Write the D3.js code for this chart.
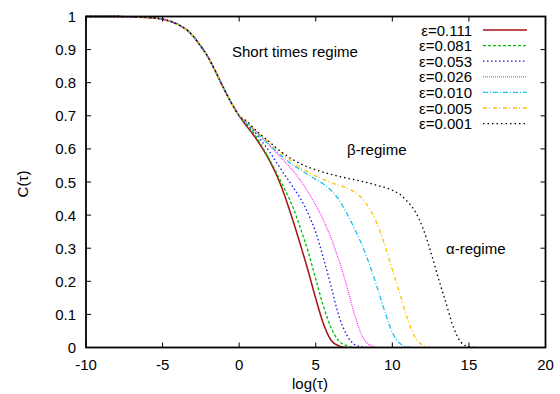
<!DOCTYPE html>
<html>
<head>
<meta charset="utf-8">
<script src="https://cdn.jsdelivr.net/npm/d3@7"></script>
<style>
  body { margin: 0; background: #fff; }
  svg { font-family: "Liberation Sans", Arial, Helvetica, sans-serif; }
</style>
</head>
<body>
<svg id="chart" width="560" height="394"></svg>
<script>
// shared short-time decay (identical for every epsilon)
const common = [[-10, 1.0], [-8, 1.0], [-7, 0.999], [-6, 0.997], [-5, 0.992], [-4, 0.976],
  [-3.3, 0.955], [-2.5, 0.91], [-2, 0.875], [-1.5, 0.83], [-1, 0.782], [-0.5, 0.738], [0, 0.70]];

const red = [[0.5, 0.668], [1, 0.638], [1.5, 0.603], [2, 0.563], [2.5, 0.515], [3, 0.455], [3.5, 0.385],
  [4, 0.31], [4.5, 0.232], [5, 0.148], [5.5, 0.072], [6, 0.022], [6.5, 0.005], [7, 0]];
const green = [[0.5, 0.672], [1, 0.645], [1.5, 0.607], [2, 0.567], [2.5, 0.522], [3, 0.476], [3.5, 0.425],
  [4, 0.36], [4.5, 0.29], [5, 0.207], [5.5, 0.125], [6, 0.06], [6.5, 0.02], [7, 0.006], [7.5, 0]];
const blue = [[0.5, 0.675], [1, 0.652], [1.5, 0.622], [2, 0.59], [2.5, 0.555], [3, 0.52], [3.5, 0.486],
  [4, 0.45], [4.5, 0.405], [5, 0.348], [5.5, 0.27], [6, 0.185], [6.5, 0.097], [7, 0.04], [7.5, 0.01],
  [8, 0.002], [8.5, 0]];
const magenta = [[0.5, 0.678], [1, 0.658], [1.5, 0.635], [2, 0.61], [2.5, 0.585], [3, 0.56], [3.5, 0.535],
  [4, 0.505], [4.5, 0.47], [5, 0.43], [5.5, 0.385], [6, 0.33], [6.5, 0.265], [7, 0.19], [7.5, 0.105],
  [8, 0.038], [8.5, 0.008], [9, 0]];
const cyan = [[0.5, 0.68], [1, 0.655], [1.5, 0.633], [2, 0.61], [2.5, 0.59], [3, 0.57], [3.5, 0.552],
  [4, 0.537], [4.5, 0.522], [5, 0.508], [5.5, 0.494], [6, 0.475], [6.5, 0.447], [7, 0.408], [7.5, 0.362],
  [8, 0.312], [8.5, 0.252], [9, 0.183], [9.5, 0.11], [10, 0.045], [10.5, 0.012], [11, 0.002], [11.5, 0]];
const yellow = [[0.5, 0.682], [1, 0.658], [1.5, 0.638], [2, 0.617], [2.5, 0.597], [3, 0.578], [3.5, 0.56],
  [4, 0.543], [4.5, 0.53], [5, 0.518], [5.5, 0.508], [6, 0.498], [6.5, 0.49], [7, 0.482], [7.5, 0.47],
  [8, 0.452], [8.5, 0.42], [9, 0.375], [9.5, 0.31], [10, 0.235], [10.5, 0.162], [11, 0.085], [11.5, 0.03],
  [12, 0.007], [12.5, 0]];
const black = [[0.5, 0.684], [1, 0.66], [1.5, 0.64], [2, 0.62], [2.5, 0.6], [3, 0.583], [3.5, 0.568],
  [4, 0.555], [5, 0.537], [6, 0.523], [7, 0.512], [8, 0.502], [9, 0.49], [10, 0.475], [10.5, 0.462],
  [11, 0.44], [11.5, 0.41], [12, 0.36], [12.5, 0.29], [13, 0.21], [13.5, 0.135], [14, 0.06], [14.5, 0.015],
  [15, 0.002], [15.5, 0]];

const labels = ["ε=0.111", "ε=0.081", "ε=0.053", "ε=0.026", "ε=0.010", "ε=0.005", "ε=0.001"];
const seriesData = [red, green, blue, magenta, cyan, yellow, black];
const colors = ["#a50f15", "#00c000", "#1010f0", "#ff33ff", "#1ec0f5", "#ffc000", "#000000"];
const dashes = ["none", "3,2", "1.5,2.5", "1,1", "5,2,1,2", "4,2,1,3", "1.5,3"];

const xTicks = [-10, -5, 0, 5, 10, 15, 20];
const yTicks = [0, 0.1, 0.2, 0.3, 0.4, 0.5, 0.6, 0.7, 0.8, 0.9, 1];

const svg = d3.select("#chart");
const plotLeft = 86, plotRight = 545.5, plotTop = 16.5, plotBottom = 347.5;
const fontSize = 15;

const x = d3.scaleLinear().domain([-10, 20]).range([plotLeft, plotRight]);
const y = d3.scaleLinear().domain([0, 1]).range([plotBottom, plotTop]);

const line = d3.line()
  .x(d => x(d[0]))
  .y(d => y(d[1]))
  .curve(d3.curveMonotoneX);

// curves
const curves = svg.append("g");
seriesData.forEach((s, i) => {
  curves.append("path")
    .attr("d", line(common.concat(s)))
    .attr("fill", "none")
    .attr("stroke", colors[i])
    .attr("stroke-width", i === 0 ? 1.5 : 1.3)
    .attr("stroke-dasharray", dashes[i]);
});

// ticks (inward, on all four sides)
const tickLen = 5;
const ticks = svg.append("g").attr("stroke", "#000").attr("stroke-width", 1);
xTicks.forEach(t => {
  ticks.append("line").attr("x1", x(t)).attr("x2", x(t)).attr("y1", plotBottom).attr("y2", plotBottom - tickLen);
  ticks.append("line").attr("x1", x(t)).attr("x2", x(t)).attr("y1", plotTop).attr("y2", plotTop + tickLen);
});
yTicks.forEach(t => {
  ticks.append("line").attr("x1", plotLeft).attr("x2", plotLeft + tickLen).attr("y1", y(t)).attr("y2", y(t));
  ticks.append("line").attr("x1", plotRight).attr("x2", plotRight - tickLen).attr("y1", y(t)).attr("y2", y(t));
});

// border
svg.append("rect")
  .attr("x", plotLeft).attr("y", plotTop)
  .attr("width", plotRight - plotLeft).attr("height", plotBottom - plotTop)
  .attr("fill", "none").attr("stroke", "#000").attr("stroke-width", 1.8);

// tick labels
svg.append("g").selectAll("text").data(xTicks).enter().append("text")
  .attr("x", d => x(d)).attr("y", 370)
  .attr("text-anchor", "middle").attr("font-size", fontSize)
  .text(d => d);
svg.append("g").selectAll("text").data(yTicks).enter().append("text")
  .attr("x", 76).attr("y", d => y(d) + 5.5)
  .attr("text-anchor", "end").attr("font-size", fontSize)
  .text(d => d);

// axis titles
svg.append("text").attr("x", 310).attr("y", 389)
  .attr("text-anchor", "middle").attr("font-size", fontSize).text("log(τ)");
svg.append("text")
  .attr("transform", "translate(28,184) rotate(-90)")
  .attr("text-anchor", "middle").attr("font-size", fontSize).text("C(τ)");

// annotations
svg.append("text").attr("x", 232).attr("y", 57).attr("font-size", fontSize).text("Short times regime");
svg.append("text").attr("x", 347).attr("y", 155).attr("font-size", fontSize).text("β-regime");
svg.append("text").attr("x", 446).attr("y", 254).attr("font-size", fontSize).text("α-regime");

// legend
const legend = svg.append("g");
labels.forEach((lab, i) => {
  const ly = 30 + i * 15.6;
  legend.append("text").attr("x", 472).attr("y", ly + 5.5)
    .attr("text-anchor", "end").attr("font-size", fontSize).text(lab);
  legend.append("line")
    .attr("x1", 483).attr("x2", 527).attr("y1", ly).attr("y2", ly)
    .attr("stroke", colors[i])
    .attr("stroke-width", i === 0 ? 1.5 : 1.3)
    .attr("stroke-dasharray", dashes[i]);
});
</script>
</body>
</html>
